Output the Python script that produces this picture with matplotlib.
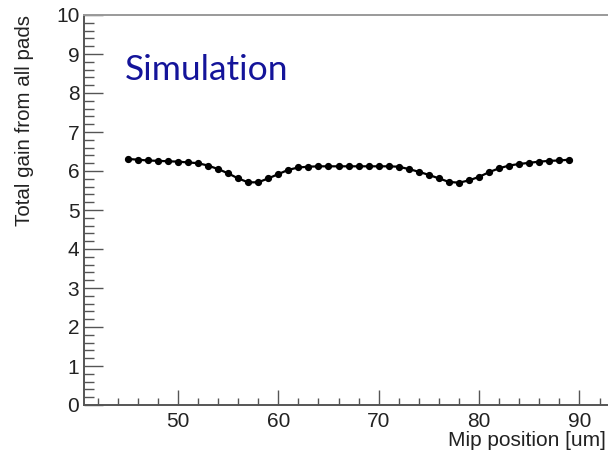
import matplotlib
matplotlib.use("Agg")
import matplotlib.pyplot as plt
from matplotlib.ticker import MultipleLocator

# Total gain summed over all pads vs. MIP position
positions = list(range(45, 90))
gain = [
    6.31, 6.29, 6.27, 6.26, 6.25, 6.24, 6.22, 6.20, 6.14, 6.05,
    5.94, 5.81, 5.71, 5.71, 5.81, 5.92, 6.03, 6.09, 6.11, 6.12,
    6.12, 6.12, 6.12, 6.12, 6.12, 6.12, 6.12, 6.11, 6.05, 5.98,
    5.90, 5.81, 5.72, 5.70, 5.76, 5.85, 5.97, 6.07, 6.14, 6.18,
    6.21, 6.24, 6.26, 6.27, 6.29,
]

W, H = 608, 458
fig = plt.figure(figsize=(W / 100, H / 100), dpi=100)
fig.patch.set_facecolor("white")

x0, x1 = 40.6, 96.0
left_px, bottom_px, top_px = 83.5, 405.0, 15.0
px_per_unit = 10.04
width_px = (x1 - x0) * px_per_unit
ax = fig.add_axes([left_px / W, (H - bottom_px) / H, width_px / W,
                   (bottom_px - top_px) / H])

ax.plot(positions, gain, color="black", lw=1.6, marker="o", ms=4.2,
        markerfacecolor="black", markeredgecolor="black")

ax.set_xlim(x0, x1)
ax.set_ylim(0, 10)

ax.xaxis.set_major_locator(MultipleLocator(10))
ax.xaxis.set_minor_locator(MultipleLocator(2))
ax.yaxis.set_major_locator(MultipleLocator(1))
ax.yaxis.set_minor_locator(MultipleLocator(0.2))

txt = "#222222"
axis_col = "#555555"
ax.tick_params(axis="both", which="both", direction="in", colors=axis_col,
               labelcolor=txt, labelsize=15)
ax.tick_params(axis="x", which="major", length=11, width=1.0, pad=5)
ax.tick_params(axis="x", which="minor", length=5, width=1.0)
ax.tick_params(axis="y", which="major", length=14, width=1.0, pad=3)
ax.tick_params(axis="y", which="minor", length=7, width=1.0)
for lab in ax.get_xticklabels() + ax.get_yticklabels():
    lab.set_family("Liberation Sans")

for side in ("left", "bottom"):
    ax.spines[side].set_color(axis_col)
    ax.spines[side].set_linewidth(1.4)
ax.spines["top"].set_color("#9a9a9a")
ax.spines["top"].set_linewidth(1.4)
ax.spines["right"].set_visible(False)

fig.text(25 / W, (H - 15) / H, "Total gain from all pads", rotation=90,
         ha="center", va="top", fontsize=14.8, color=txt,
         family="Liberation Sans")
fig.text(606 / W, (H - 441) / H, "Mip position [um]", ha="right",
         va="center", fontsize=15, color=txt, family="Liberation Sans")

fig.text(125 / W, (H - 70) / H, "Simulation", ha="left", va="center",
         fontsize=25.5, color="#14149a", family="Lato")

fig.savefig("out.png", dpi=100, facecolor="white")
